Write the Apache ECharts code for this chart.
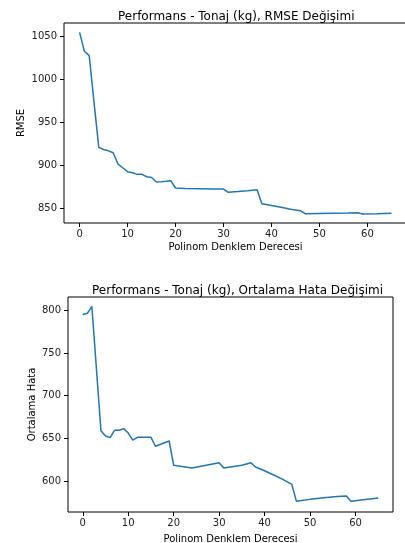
<!DOCTYPE html>
<html>
<head>
<meta charset="utf-8">
<title>Performans - Tonaj (kg)</title>
<script src="https://cdn.jsdelivr.net/npm/echarts@6/dist/echarts.min.js"></script>
<style>
html,body{margin:0;padding:0;background:#fff;}
#chart{width:405px;height:543px;}
</style>
</head>
<body>
<div id="chart"></div>
<script>
// derece (x) ve hata değerleri
var rmseDeg = [0,1,2,3,4,5,6,7,8,9,10,11,12,13,14,15,16,17,18,19,20,22,25,28,30,31,33,35,37,38,40,42,44,46,47,50,53,56,58,59,62,65];
var rmseVal = [1055,1033,1028,974,921,918.5,917,914.8,901.6,897.3,892.7,891.5,889.6,889.6,886.8,886,880.6,881,881.5,882.2,873.7,873,872.8,872.6,872.5,868.7,869.5,870.5,871.7,855.3,853.3,851.2,849,847.2,843.7,844.1,844.4,844.6,844.9,843.3,843.8,844.4];

var hataDeg = [0,1,2,4,5,6,7,8,9,10,11,12,15,16,19,20,24,30,31,35,37,38,40,42,44,46,47,50,53,56,58,59,65];
var hataVal = [795,796.5,804.7,659,652.7,650.8,659.4,659.4,661.4,656.2,648,651.2,651.2,640.7,646.9,618.4,615.2,621.5,615.2,618.4,621.5,616.4,612,607,602,596,576.2,578.5,580.5,582,582.4,576.2,580];

var xTicks = [0,10,20,30,40,50,60];
var rmseTicks = [850,900,950,1000,1050];
var hataTicks = [600,650,700,750,800];

function pairs(xs, ys) {
    var out = [];
    for (var i = 0; i < xs.length; i++) out.push([xs[i], ys[i]]);
    return out;
}

var font = 'DejaVu Sans';
var chart = echarts.init(document.getElementById('chart'));

function xAx(idx, ticks, gap) {
    return {
        type: 'value', gridIndex: idx, min: -3.25, max: 68.25,
        name: 'Polinom Denklem Derecesi', nameLocation: 'middle', nameGap: gap,
        nameTextStyle: {fontFamily: font, fontSize: 10, color: '#000'},
        axisLine: {show: false, onZero: false},
        splitLine: {show: false},
        axisTick: {show: true, length: 4, customValues: ticks, lineStyle: {color: '#000'}},
        axisLabel: {customValues: ticks, margin: 6, fontFamily: font, fontSize: 10, color: '#222',
            formatter: function (v) { return String(v); }}
    };
}
function yAx(idx, min, max, ticks, name, gap) {
    return {
        type: 'value', gridIndex: idx, min: min, max: max,
        name: name, nameLocation: 'middle', nameGap: gap, nameMoveOverlap: false,
        nameTextStyle: {fontFamily: font, fontSize: 10, color: '#000'},
        axisLine: {show: false, onZero: false},
        splitLine: {show: false},
        axisTick: {show: true, length: 4, customValues: ticks, lineStyle: {color: '#000'}},
        axisLabel: {customValues: ticks, margin: 7, fontFamily: font, fontSize: 10, color: '#222',
            formatter: function (v) { return String(v); }}
    };
}

chart.setOption({
    animation: false,
    backgroundColor: '#fff',
    title: [
        {text: 'Performans - Tonaj (kg), RMSE Değişimi', left: 113, top: 6,
            textStyle: {fontFamily: font, fontSize: 12, fontWeight: 'normal', color: '#000'}},
        {text: 'Performans - Tonaj (kg), Ortalama Hata Değişimi', left: 87, top: 280,
            textStyle: {fontFamily: font, fontSize: 12, fontWeight: 'normal', color: '#000'}}
    ],
    grid: [
        {left: 64, top: 23, width: 343, height: 200, show: true, borderColor: '#000', borderWidth: 1,
            backgroundColor: '#fff', outerBoundsMode: 'none', containLabel: false},
        {left: 68, top: 297, width: 325, height: 215, show: true, borderColor: '#000', borderWidth: 1,
            backgroundColor: '#fff', outerBoundsMode: 'none', containLabel: false}
    ],
    xAxis: [xAx(0, xTicks, 19), xAx(1, xTicks, 22)],
    yAxis: [
        yAx(0, 832.9, 1066, rmseTicks, 'RMSE', 38),
        yAx(1, 563.7, 815.6, hataTicks, 'Ortalama Hata', 31)
    ],
    series: [
        {type: 'line', xAxisIndex: 0, yAxisIndex: 0, data: pairs(rmseDeg, rmseVal),
            showSymbol: false, lineStyle: {color: '#1f77b4', width: 1.5}},
        {type: 'line', xAxisIndex: 1, yAxisIndex: 1, data: pairs(hataDeg, hataVal),
            showSymbol: false, lineStyle: {color: '#1f77b4', width: 1.5}}
    ]
});
</script>
</body>
</html>
